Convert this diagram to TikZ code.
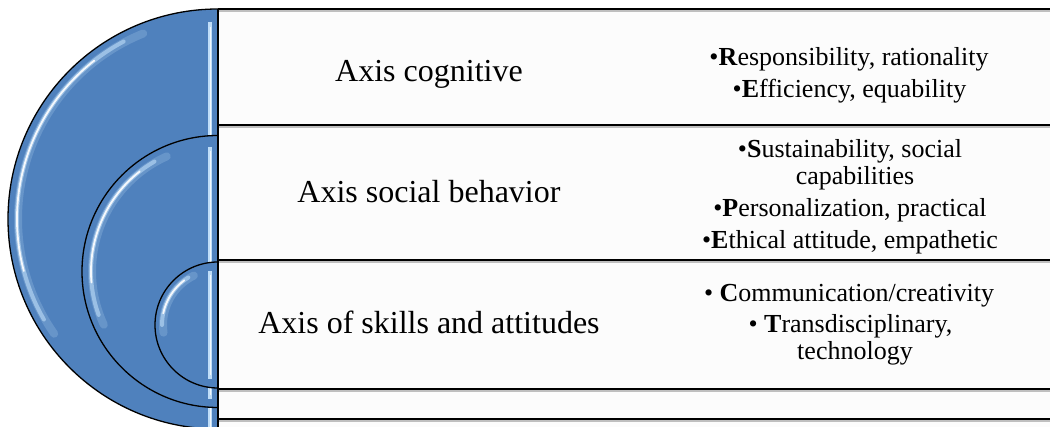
\documentclass[tikz,border=0pt]{standalone}
\usepackage{fontspec}
\setmainfont{Liberation Serif}
\definecolor{diskblue}{HTML}{4F81BD}
\definecolor{rowbg}{HTML}{FCFCFC}
\definecolor{hilite}{HTML}{BFDDF8}
\begin{document}
\begin{tikzpicture}[x=1pt,y=1pt,
  disk/.style={fill=diskblue, draw=black, line width=1.3pt},
  hlglow/.style={draw=hilite, line width=8pt, line cap=round, opacity=0.22},
  hlsoft/.style={draw=hilite, line width=4pt, line cap=round, opacity=0.6},
  hlcore/.style={draw=white, line width=1.8pt, line cap=round, opacity=0.9},
  stripe/.style={draw=hilite, line width=4.5pt},
  stripecore/.style={draw=white, line width=1.2pt, opacity=0.8},
  rulemain/.style={draw=black, line width=1.6pt},
  ruleshadow/.style={draw=black!25, line width=1.6pt},
  lefttext/.style={anchor=base, font=\fontsize{32}{36}\selectfont},
  righttext/.style={anchor=base, font=\fontsize{26}{28}\selectfont}]
\useasboundingbox (0,0) rectangle (1050,427);
\fill[white] (0,0) rectangle (1050,427);
\begin{scope}
\clip (0,0) rectangle (1050,427);
% ---- big disk
\path[disk] (218,418) arc[start angle=90, end angle=270, radius=210] -- cycle;
\draw[hlglow] (218,208) ++(112:200) arc[start angle=112, end angle=215, radius=200];
\draw[hlsoft] (218,208) ++(118:201) arc[start angle=118, end angle=210, radius=201];
\draw[hlcore] (218,208) ++(128:201) arc[start angle=128, end angle=195, radius=201];
\draw[stripe] (210,405) -- (210,0);
\draw[stripecore] (210.5,400) -- (210.5,0);
% ---- middle disk
\path[disk] (218,291.5) arc[start angle=90, end angle=270, radius=136] -- cycle;
\draw[hlglow] (218,155.5) ++(114:126) arc[start angle=114, end angle=205, radius=126];
\draw[hlsoft] (218,155.5) ++(120:127) arc[start angle=120, end angle=200, radius=127];
\draw[hlcore] (218,155.5) ++(128:127) arc[start angle=128, end angle=185, radius=127];
\draw[stripe] (210,280) -- (210,28);
\draw[stripecore] (210.5,276) -- (210.5,32);
% ---- small disk
\path[disk] (218,165) arc[start angle=90, end angle=270, radius=63] -- cycle;
\draw[hlglow] (218,102) ++(116:55) arc[start angle=116, end angle=188, radius=55];
\draw[hlsoft] (218,102) ++(122:56) arc[start angle=122, end angle=180, radius=56];
\draw[hlcore] (218,102) ++(127:56) arc[start angle=127, end angle=168, radius=56];
\draw[stripe] (210,156) -- (210,48);
\draw[stripecore] (210.5,152) -- (210.5,52);
\end{scope}
% ---- rows
\fill[rowbg] (218,0) rectangle (1050,418);
\coordinate (L0) at (218,418); \coordinate (R0) at (1050,418);
\coordinate (L1) at (218,302); \coordinate (R1) at (1050,302);
\coordinate (L2) at (218,167); \coordinate (R2) at (1050,167);
\coordinate (L3) at (218,38);  \coordinate (R3) at (1050,38);
\coordinate (L4) at (218,8);   \coordinate (R4) at (1050,8);
\coordinate (B) at (218,0);
\foreach \a/\b in {L0/R0,L1/R1,L2/R2,L3/R3,L4/R4}{
  \draw[ruleshadow] ([yshift=-1.8pt]\a) -- ([yshift=-1.8pt]\b);
  \draw[rulemain] (\a) -- (\b);
}
\draw[rulemain] (L0) -- (B);
% ---- left texts
\node[lefttext] (t1) at (429,345) {Axis cognitive};
\node[lefttext] (t2) at (429,224) {Axis social behavior};
\node[lefttext] (t3) at (429,93) {Axis of skills and attitudes};
% ---- right texts
\node[righttext] (a1) at (849,361) {•\textbf{R}esponsibility, rationality};
\node[righttext] (a2) at (849.5,329) {•\textbf{E}fficiency, equability};
\node[righttext] (b1) at (850,269) {•\textbf{S}ustainability, social};
\node[righttext] (b2) at (855,242) {capabilities};
\node[righttext] (b3) at (850,210) {•\textbf{P}ersonalization, practical};
\node[righttext] (b4) at (850,178) {•\textbf{E}thical attitude, empathetic};
\node[righttext] (c1) at (849,125) {• \textbf{C}ommunication/creativity};
\node[righttext] (c2) at (850.5,94) {• \textbf{T}ransdisciplinary,};
\node[righttext] (c3) at (855,67) {technology};
\end{tikzpicture}
\end{document}
